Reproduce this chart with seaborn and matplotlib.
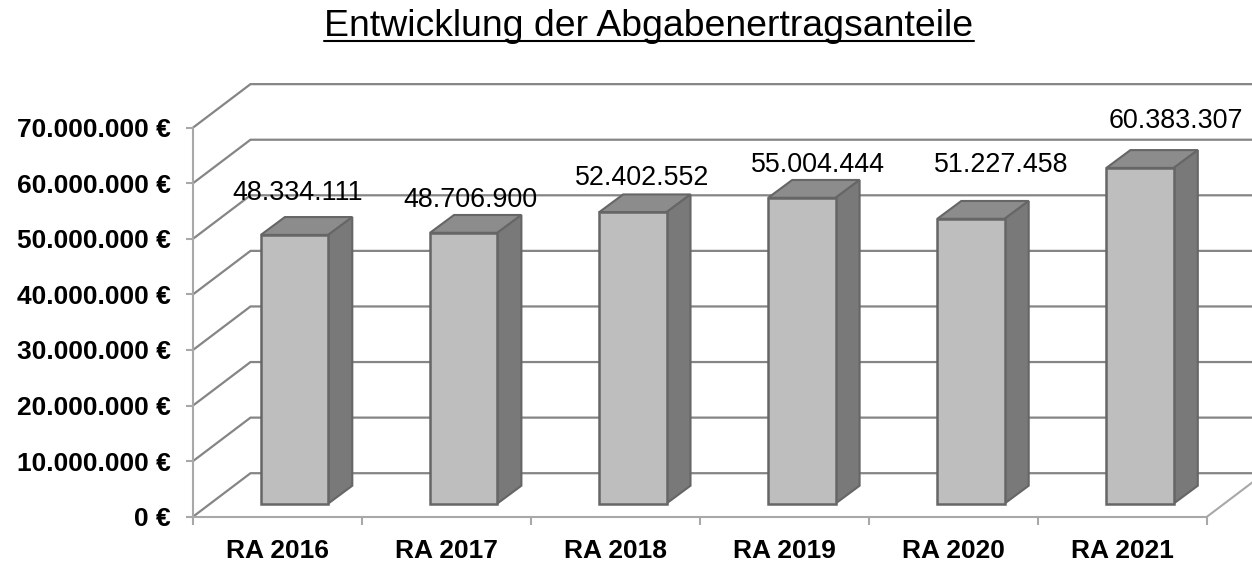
import matplotlib
matplotlib.use("Agg")
import matplotlib.pyplot as plt
import pandas as pd
import seaborn as sns

# Data
categories = ["RA 2016", "RA 2017", "RA 2018", "RA 2019", "RA 2020", "RA 2021"]
values = [48334111, 48706900, 52402552, 55004444, 51227458, 60383307]
value_labels = ["48.334.111", "48.706.900", "52.402.552", "55.004.444", "51.227.458", "60.383.307"]
axis_values = [0, 10000000, 20000000, 30000000, 40000000, 50000000, 60000000, 70000000]
axis_labels = ["0 €", "10.000.000 €", "20.000.000 €", "30.000.000 €", "40.000.000 €",
               "50.000.000 €", "60.000.000 €", "70.000.000 €"]
title = "Entwicklung der Abgabenertragsanteile"

# Layout (pixel geometry of the pseudo-3D projection)
W, H = 1252, 562
PX_PER_CAT = 169.1
PX_PER_EUR = 5.558e-6
X0_PX, Y0_PX = 294.6, 503.5
dxc = lambda px: px / PX_PER_CAT
dyv = lambda px: px / PX_PER_EUR

BAR_W = 67.4 / PX_PER_CAT
FRONT_Y = dyv(-13.2)
FRONT_X = dxc(193 - X0_PX)
WALL_DX, WALL_DY = dxc(57.5), dyv(43.5)
DEPTH_DX, DEPTH_DY = dxc(24), dyv(17.8)
GRID = "#858585"
EDGE = "#666666"
FRONT, TOP, SIDE = "#BEBEBE", "#8C8C8C", "#797979"
LABEL_OFFSETS = [(3, 42), (6.5, 33), (9.5, 34), (16.5, 33), (30, 54), (36, 47)]

sns.set_theme(style="white")
plt.rcParams["font.family"] = ["Liberation Sans", "DejaVu Sans"]

fig = plt.figure(figsize=(W / 100, H / 100), dpi=100)
ax = fig.add_axes([0, 0, 1, 1])
ax.patch.set_alpha(0)

df = pd.DataFrame({"cat": categories, "val": values})
sns.barplot(data=df, x="cat", y="val", order=categories, color=FRONT, saturation=1,
            width=BAR_W, edgecolor=EDGE, linewidth=1.8, zorder=4, ax=ax, errorbar=None)
for p in ax.patches:
    p.set_facecolor(FRONT)

ax.set_xlim(-X0_PX / PX_PER_CAT, (W - X0_PX) / PX_PER_CAT)
ax.set_ylim(-(H - Y0_PX) / PX_PER_EUR, Y0_PX / PX_PER_EUR)

# Back wall grid and left wall diagonals
x_right = FRONT_X + dxc(1014)
for v in axis_values:
    yf = v + FRONT_Y
    ax.plot([FRONT_X, FRONT_X + WALL_DX, x_right + WALL_DX], [yf, yf + WALL_DY, yf + WALL_DY],
            color=GRID, lw=1.6, zorder=1, solid_joinstyle="miter")
# floor right edge
ax.plot([x_right, x_right + WALL_DX], [FRONT_Y, FRONT_Y + WALL_DY], color="#A8A8A8", lw=1.5, zorder=1)

# 3D sides of bars
for i, v in enumerate(values):
    l, r = i - BAR_W / 2, i + BAR_W / 2
    ax.fill([l, r, r + DEPTH_DX, l + DEPTH_DX], [v, v, v + DEPTH_DY, v + DEPTH_DY],
            facecolor=TOP, edgecolor=EDGE, lw=1.5, zorder=3)
    ax.fill([r, r + DEPTH_DX, r + DEPTH_DX, r], [0, DEPTH_DY, v + DEPTH_DY, v],
            facecolor=SIDE, edgecolor=EDGE, lw=1.5, zorder=3)
    dx, dy = LABEL_OFFSETS[i]
    ax.annotate(value_labels[i], xy=(i, v), xytext=(dx * 0.72, dy * 0.72), textcoords="offset points",
                ha="center", va="center", fontsize=19.4, color="black", zorder=6)

# Axes: front lines with ticks
for s in ("top", "right"):
    ax.spines[s].set_visible(False)
for s in ("left", "bottom"):
    ax.spines[s].set_visible(True)
    ax.spines[s].set_color("#A8A8A8")
    ax.spines[s].set_linewidth(1.5)
ax.spines["left"].set_position(("data", FRONT_X))
ax.spines["bottom"].set_position(("data", FRONT_Y))
ax.spines["left"].set_bounds(FRONT_Y, axis_values[-1] + FRONT_Y)
ax.spines["bottom"].set_bounds(FRONT_X, x_right)

ax.set_yticks([v + FRONT_Y for v in axis_values], labels=axis_labels)
ax.tick_params(axis="y", which="major", left=True, length=5, width=1.5, color="#A8A8A8", pad=11,
               labelsize=19, labelcolor="black")
for t in ax.get_yticklabels():
    t.set_fontweight("bold")
cell = dxc(1014) / len(categories)
ax.set_xticks([FRONT_X + k * cell for k in range(len(categories) + 1)])
ax.set_xticklabels([""] * (len(categories) + 1))
ax.set_xticks([FRONT_X + (k + 0.5) * cell for k in range(len(categories))], labels=categories, minor=True)
ax.tick_params(axis="x", which="major", bottom=True, length=6, width=1.5, color="#A8A8A8")
ax.tick_params(axis="x", which="minor", bottom=False, length=0, pad=16.2, labelsize=19, labelcolor="black")
for t in ax.get_xticklabels(minor=True):
    t.set_fontweight("bold")
ax.set_xlabel("")
ax.set_ylabel("")

# Title with underline
tx = fig.text(649 / W, 1 - 36 / H, title, ha="center", va="baseline", fontsize=26.9, color="black")
fig.canvas.draw()
bb = tx.get_window_extent()
fig.add_artist(plt.Line2D([bb.x0 / W, bb.x1 / W], [1 - 40.5 / H, 1 - 40.5 / H], color="black", lw=1.5,
                          transform=fig.transFigure))

fig.savefig("out.png", dpi=100)
